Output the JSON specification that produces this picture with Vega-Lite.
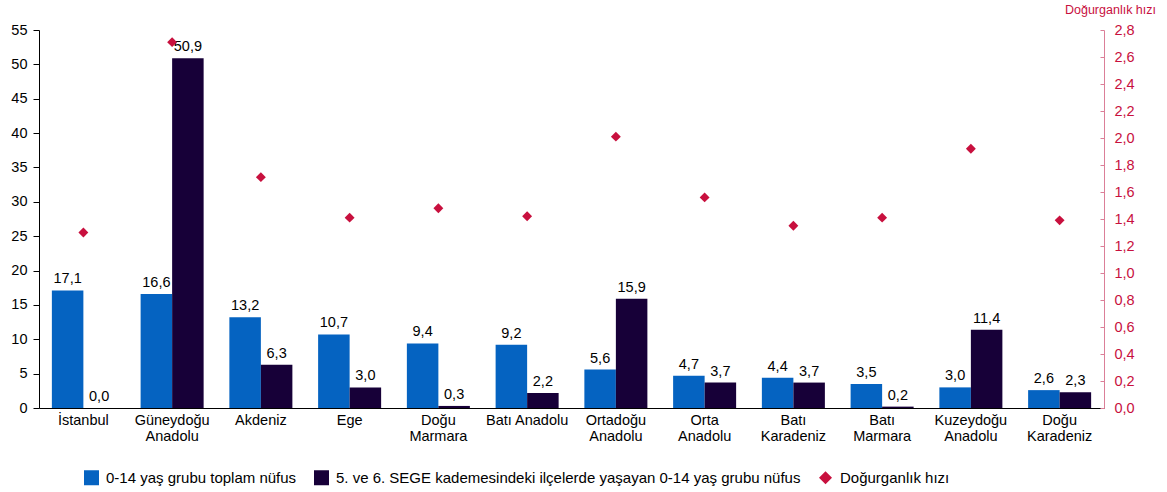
{
  "$schema": "https://vega.github.io/schema/vega-lite/v6.json",
  "width": 1065,
  "height": 378,
  "autosize": "none",
  "padding": {"left": 39, "top": 30, "right": 63, "bottom": 84},
  "config": {
    "locale": {"number": {"decimal": ",", "thousands": ".", "grouping": [3], "currency": ["", " TL"]}},
    "font": "Liberation Sans",
    "view": {"stroke": null},
    "axis": {"grid": false, "labelFont": "Liberation Sans", "labelFontSize": 14.5, "labelColor": "#000000", "labelOverlap": false}
  },
  "datasets": {
    "pop": [
      {"region": "İstanbul", "series": "0-14 yaş grubu toplam nüfus", "value": 17.1},
      {"region": "İstanbul", "series": "5. ve 6. SEGE kademesindeki ilçelerde yaşayan 0-14 yaş grubu nüfus", "value": 0.0},
      {"region": "Güneydoğu|Anadolu", "series": "0-14 yaş grubu toplam nüfus", "value": 16.6},
      {"region": "Güneydoğu|Anadolu", "series": "5. ve 6. SEGE kademesindeki ilçelerde yaşayan 0-14 yaş grubu nüfus", "value": 50.9},
      {"region": "Akdeniz", "series": "0-14 yaş grubu toplam nüfus", "value": 13.2},
      {"region": "Akdeniz", "series": "5. ve 6. SEGE kademesindeki ilçelerde yaşayan 0-14 yaş grubu nüfus", "value": 6.3},
      {"region": "Ege", "series": "0-14 yaş grubu toplam nüfus", "value": 10.7},
      {"region": "Ege", "series": "5. ve 6. SEGE kademesindeki ilçelerde yaşayan 0-14 yaş grubu nüfus", "value": 3.0},
      {"region": "Doğu|Marmara", "series": "0-14 yaş grubu toplam nüfus", "value": 9.4},
      {"region": "Doğu|Marmara", "series": "5. ve 6. SEGE kademesindeki ilçelerde yaşayan 0-14 yaş grubu nüfus", "value": 0.3},
      {"region": "Batı Anadolu", "series": "0-14 yaş grubu toplam nüfus", "value": 9.2},
      {"region": "Batı Anadolu", "series": "5. ve 6. SEGE kademesindeki ilçelerde yaşayan 0-14 yaş grubu nüfus", "value": 2.2},
      {"region": "Ortadoğu|Anadolu", "series": "0-14 yaş grubu toplam nüfus", "value": 5.6},
      {"region": "Ortadoğu|Anadolu", "series": "5. ve 6. SEGE kademesindeki ilçelerde yaşayan 0-14 yaş grubu nüfus", "value": 15.9},
      {"region": "Orta|Anadolu", "series": "0-14 yaş grubu toplam nüfus", "value": 4.7},
      {"region": "Orta|Anadolu", "series": "5. ve 6. SEGE kademesindeki ilçelerde yaşayan 0-14 yaş grubu nüfus", "value": 3.7},
      {"region": "Batı|Karadeniz", "series": "0-14 yaş grubu toplam nüfus", "value": 4.4},
      {"region": "Batı|Karadeniz", "series": "5. ve 6. SEGE kademesindeki ilçelerde yaşayan 0-14 yaş grubu nüfus", "value": 3.7},
      {"region": "Batı|Marmara", "series": "0-14 yaş grubu toplam nüfus", "value": 3.5},
      {"region": "Batı|Marmara", "series": "5. ve 6. SEGE kademesindeki ilçelerde yaşayan 0-14 yaş grubu nüfus", "value": 0.2},
      {"region": "Kuzeydoğu|Anadolu", "series": "0-14 yaş grubu toplam nüfus", "value": 3.0},
      {"region": "Kuzeydoğu|Anadolu", "series": "5. ve 6. SEGE kademesindeki ilçelerde yaşayan 0-14 yaş grubu nüfus", "value": 11.4},
      {"region": "Doğu|Karadeniz", "series": "0-14 yaş grubu toplam nüfus", "value": 2.6},
      {"region": "Doğu|Karadeniz", "series": "5. ve 6. SEGE kademesindeki ilçelerde yaşayan 0-14 yaş grubu nüfus", "value": 2.3}
    ],
    "rate": [
      {"region": "İstanbul", "series": "Doğurganlık hızı", "rate": 1.30},
      {"region": "Güneydoğu|Anadolu", "series": "Doğurganlık hızı", "rate": 2.71},
      {"region": "Akdeniz", "series": "Doğurganlık hızı", "rate": 1.71},
      {"region": "Ege", "series": "Doğurganlık hızı", "rate": 1.41},
      {"region": "Doğu|Marmara", "series": "Doğurganlık hızı", "rate": 1.48},
      {"region": "Batı Anadolu", "series": "Doğurganlık hızı", "rate": 1.42},
      {"region": "Ortadoğu|Anadolu", "series": "Doğurganlık hızı", "rate": 2.01},
      {"region": "Orta|Anadolu", "series": "Doğurganlık hızı", "rate": 1.56},
      {"region": "Batı|Karadeniz", "series": "Doğurganlık hızı", "rate": 1.35},
      {"region": "Batı|Marmara", "series": "Doğurganlık hızı", "rate": 1.41},
      {"region": "Kuzeydoğu|Anadolu", "series": "Doğurganlık hızı", "rate": 1.92},
      {"region": "Doğu|Karadeniz", "series": "Doğurganlık hızı", "rate": 1.39}
    ]
  },
  "encoding": {
    "x": {
      "field": "region",
      "type": "nominal",
      "sort": null,
      "scale": {"paddingInner": 0.29, "paddingOuter": 0.145},
      "axis": {
        "title": null,
        "labelAngle": 0,
        "labelExpr": "split(datum.label, '|')",
        "labelLineHeight": 16,
        "ticks": false,
        "labelPadding": 5,
        "domainColor": "#000000",
        "labelBaseline": "top"
      }
    }
  },
  "layer": [
    {
      "data": {"name": "pop"},
      "encoding": {
        "xOffset": {"field": "series", "type": "nominal", "sort": null, "scale": {"paddingInner": 0, "paddingOuter": 0}},
        "y": {
          "field": "value",
          "type": "quantitative",
          "scale": {"domain": [0, 55]},
          "axis": {"title": null, "values": [0,5,10,15,20,25,30,35,40,45,50,55], "domainColor": "#000000", "tickColor": "#000000", "tickSize": 6, "labelPadding": 6}
        }
      },
      "layer": [
        {
          "mark": {"type": "bar"},
          "encoding": {
            "color": {
              "field": "series",
              "type": "nominal",
              "scale": {
                "domain": ["0-14 yaş grubu toplam nüfus", "5. ve 6. SEGE kademesindeki ilçelerde yaşayan 0-14 yaş grubu nüfus", "Doğurganlık hızı"],
                "range": ["#0563C1", "#170038", "#C8103E"]
              },
              "legend": {
                "title": null,
                "orient": "none",
                "legendX": 45,
                "legendY": 440,
                "direction": "horizontal",
                "labelFontSize": 15,
                "labelFont": "Liberation Sans",
                "labelColor": "#000000",
                "labelLimit": 800,
                "columnPadding": 17,
                "symbolSize": 225,
                "symbolStrokeWidth": 0,
                "symbolOffset": 0,
                "labelOffset": 7
              }
            }
          }
        },
        {
          "mark": {"type": "text", "baseline": "bottom", "dy": -4, "fontSize": 14.5, "color": "#000000", "font": "Liberation Sans"},
          "encoding": {
            "text": {"field": "value", "type": "quantitative", "format": ".1f"}
          }
        }
      ]
    },
    {
      "data": {"name": "rate"},
      "mark": {"type": "point", "filled": true, "opacity": 1, "size": 130, "strokeWidth": 0},
      "encoding": {
        "y": {
          "field": "rate",
          "type": "quantitative",
          "scale": {"domain": [0, 2.8]},
          "axis": {
            "orient": "right",
            "title": "Doğurganlık hızı",
            "titleAngle": 0,
            "titleX": 6,
            "titleY": -17,
            "titleAlign": "center",
            "titleBaseline": "alphabetic",
            "titleFontSize": 12.5,
            "titleFont": "Liberation Sans",
            "titleFontWeight": "normal",
            "titleColor": "#C8103E",
            "values": [0,0.2,0.4,0.6,0.8,1.0,1.2,1.4,1.6,1.8,2.0,2.2,2.4,2.6,2.8],
            "format": ".1f",
            "labelColor": "#C8103E",
            "domainColor": "#DB7F98",
            "tickColor": "#DB7F98",
            "tickSize": -4,
            "labelPadding": 14
          }
        },
        "color": {"field": "series", "type": "nominal"},
        "shape": {
          "field": "series",
          "type": "nominal",
          "scale": {
            "domain": ["0-14 yaş grubu toplam nüfus", "5. ve 6. SEGE kademesindeki ilçelerde yaşayan 0-14 yaş grubu nüfus", "Doğurganlık hızı"],
            "range": ["square", "square", "M0,-0.87L0.87,0L0,0.87L-0.87,0Z"]
          }
        }
      }
    }
  ],
  "resolve": {"scale": {"y": "independent"}}
}
